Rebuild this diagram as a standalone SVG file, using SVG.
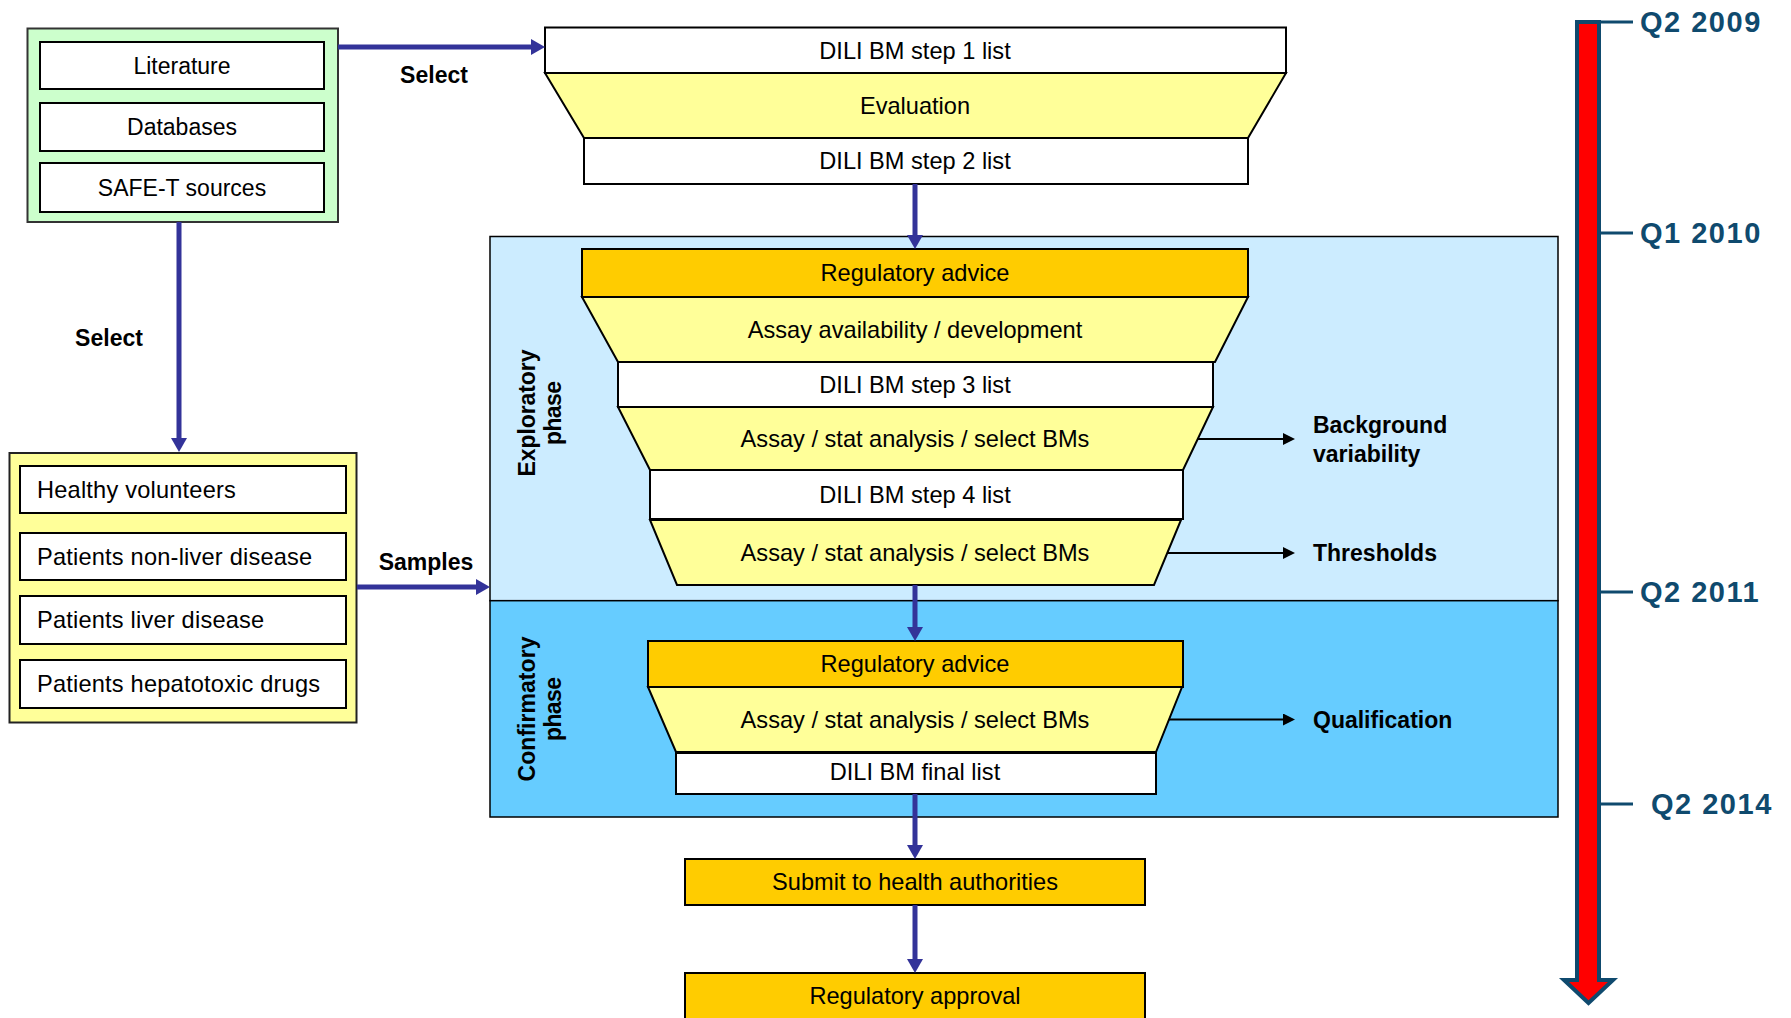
<svg xmlns="http://www.w3.org/2000/svg" width="1791" height="1018" viewBox="0 0 1791 1018">
<style>
.t{font-family:"Liberation Sans",Arial,sans-serif;font-size:23px;fill:#000;text-anchor:middle}
.f{font-size:23.6px}
.p{font-size:23.6px;letter-spacing:0.2px}
.l{text-anchor:start}
.b{font-weight:bold}
.box{fill:#fff;stroke:#000;stroke-width:2}
.trap{fill:#FFFF99;stroke:#000;stroke-width:2}
.reg{fill:#FFCC00;stroke:#000;stroke-width:2}
.con{stroke:#333399;stroke-width:5;fill:none}
.blk{stroke:#000;stroke-width:2;fill:none}
.tk{stroke:#0F4A6E;stroke-width:3}
.tl{font-family:"Liberation Sans",Arial,sans-serif;font-weight:bold;font-size:29px;fill:#0F4A6E;letter-spacing:1.5px}
</style>
<defs>
<marker id="ab" markerUnits="userSpaceOnUse" markerWidth="16" markerHeight="18" refX="1" refY="8" orient="auto">
<path d="M0,0 L14,8 L0,16 z" fill="#333399"/>
</marker>
<marker id="ak" markerUnits="userSpaceOnUse" markerWidth="14" markerHeight="14" refX="1" refY="6" orient="auto">
<path d="M0,0 L12,6 L0,12 z" fill="#000"/>
</marker>
</defs>
<rect width="1791" height="1018" fill="#fff"/>

<g id="phase-exploratory">
<rect x="490" y="236.5" width="1068" height="364.2" fill="#CCECFF" stroke="#000" stroke-width="1.5"/>
<text class="t b" transform="translate(535,413) rotate(-90)" textLength="127" lengthAdjust="spacing" font-size="21.5">Exploratory</text>
<text class="t b" transform="translate(561,413) rotate(-90)" textLength="64" lengthAdjust="spacing" font-size="21.5">phase</text>
</g>
<g id="phase-confirmatory">
<rect x="490" y="600.7" width="1068" height="216.3" fill="#66CCFF" stroke="#000" stroke-width="1.5"/>
<text class="t b" transform="translate(535,709) rotate(-90)" textLength="145" lengthAdjust="spacing" font-size="21.5">Confirmatory</text>
<text class="t b" transform="translate(561,709) rotate(-90)" textLength="64" lengthAdjust="spacing" font-size="21.5">phase</text>
</g>

<g id="sources">
<rect x="27.5" y="28.5" width="310.5" height="193.5" fill="#CCFFCC" stroke="#333" stroke-width="2"/>
<rect class="box" x="40" y="42" width="284" height="47"/>
<text class="t" x="182" y="73.5">Literature</text>
<rect class="box" x="40" y="103" width="284" height="48"/>
<text class="t" x="182" y="135">Databases</text>
<rect class="box" x="40" y="163" width="284" height="49"/>
<text class="t" x="182" y="195.5">SAFE-T sources</text>
</g>

<g id="samples">
<rect x="9.5" y="453" width="347" height="269.5" fill="#FFFF99" stroke="#222" stroke-width="2"/>
<rect class="box" x="20" y="466" width="326" height="47"/>
<text class="t p l" x="37" y="497.5">Healthy volunteers</text>
<rect class="box" x="20" y="533" width="326" height="47"/>
<text class="t p l" x="37" y="564.5">Patients non-liver disease</text>
<rect class="box" x="20" y="596" width="326" height="48"/>
<text class="t p l" x="37" y="628">Patients liver disease</text>
<rect class="box" x="20" y="660" width="326" height="48"/>
<text class="t p l" x="37" y="692">Patients hepatotoxic drugs</text>
</g>

<g id="step1"><rect class="box" x="545" y="27.5" width="741" height="45.5"/><text class="t f" x="915" y="59">DILI BM step 1 list</text></g>
<g id="evaluation"><polygon class="trap" points="545,73 1286,73 1248,138 584,138"/><text class="t f" x="915" y="113.5">Evaluation</text></g>
<g id="step2"><rect class="box" x="584" y="138" width="664" height="46"/><text class="t f" x="915" y="169">DILI BM step 2 list</text></g>

<g id="reg-advice-1"><rect class="reg" x="582" y="249" width="666" height="48"/><text class="t f" x="915" y="281">Regulatory advice</text></g>
<g id="assay-avail"><polygon class="trap" points="582,297 1248,297 1215,362 618,362"/><text class="t f" x="915" y="337.5">Assay availability / development</text></g>
<g id="step3"><rect class="box" x="618" y="362" width="595" height="45"/><text class="t f" x="915" y="392.5">DILI BM step 3 list</text></g>
<g id="assay-1"><polygon class="trap" points="618,407 1213,407 1183,470 650,470"/><text class="t f" x="915" y="446.5">Assay / stat analysis / select BMs</text></g>
<g id="step4"><rect class="box" x="650" y="470" width="533" height="49"/><text class="t f" x="915" y="502.5">DILI BM step 4 list</text></g>
<g id="assay-2"><polygon class="trap" points="650,520 1181,520 1154,585 677,585"/><text class="t f" x="915" y="560.5">Assay / stat analysis / select BMs</text></g>

<g id="reg-advice-2"><rect class="reg" x="648" y="641" width="535" height="46"/><text class="t f" x="915" y="672">Regulatory advice</text></g>
<g id="assay-3"><polygon class="trap" points="648,687 1182,687 1156,752 676,752"/><text class="t f" x="915" y="727.5">Assay / stat analysis / select BMs</text></g>
<g id="final"><rect class="box" x="676" y="753" width="480" height="41"/><text class="t f" x="915" y="779.5">DILI BM final list</text></g>

<g id="submit"><rect class="reg" x="685" y="859" width="460" height="46"/><text class="t f" x="915" y="890">Submit to health authorities</text></g>
<g id="approval"><rect class="reg" x="685" y="973" width="460" height="50"/><text class="t f" x="915" y="1004">Regulatory approval</text></g>

<g id="out-background"><text class="t b l" x="1313" y="432.5">Background</text><text class="t b l" x="1313" y="461.5">variability</text></g>
<g id="out-thresholds"><text class="t b l" x="1313" y="560.5">Thresholds</text></g>
<g id="out-qualification"><text class="t b l" x="1313" y="727.5">Qualification</text></g>

<g id="connectors">
<line class="con" x1="338" y1="47" x2="532" y2="47" marker-end="url(#ab)"/>
<line class="con" x1="915" y1="184" x2="915" y2="236" marker-end="url(#ab)"/>
<line class="con" x1="179" y1="222" x2="179" y2="439" marker-end="url(#ab)"/>
<line class="con" x1="357" y1="587" x2="477" y2="587" marker-end="url(#ab)"/>
<line class="con" x1="915" y1="585" x2="915" y2="628" marker-end="url(#ab)"/>
<line class="con" x1="915" y1="794" x2="915" y2="846" marker-end="url(#ab)"/>
<line class="con" x1="915" y1="905" x2="915" y2="960" marker-end="url(#ab)"/>
<line class="blk" x1="1197" y1="439" x2="1284" y2="439" marker-end="url(#ak)"/>
<line class="blk" x1="1168" y1="553" x2="1284" y2="553" marker-end="url(#ak)"/>
<line class="blk" x1="1169" y1="719.5" x2="1284" y2="719.5" marker-end="url(#ak)"/>
<text class="t b" x="434" y="83">Select</text>
<text class="t b" x="109" y="346">Select</text>
<text class="t b" x="426" y="570">Samples</text>
</g>

<g id="timeline">
<polygon points="1577,22 1599,22 1599,980 1613,980 1588.5,1003 1564,980 1577,980" fill="#FF0000" stroke="#0F4A6E" stroke-width="4" stroke-linejoin="miter"/>
<line class="tk" x1="1600" y1="22" x2="1633" y2="22"/>
<line class="tk" x1="1600" y1="233" x2="1633" y2="233"/>
<line class="tk" x1="1600" y1="592" x2="1633" y2="592"/>
<line class="tk" x1="1600" y1="804" x2="1633" y2="804"/>
<text class="tl" x="1640" y="32">Q2 2009</text>
<text class="tl" x="1640" y="243">Q1 2010</text>
<text class="tl" x="1640" y="602">Q2 2011</text>
<text class="tl" x="1651" y="814">Q2 2014</text>
</g>
</svg>
